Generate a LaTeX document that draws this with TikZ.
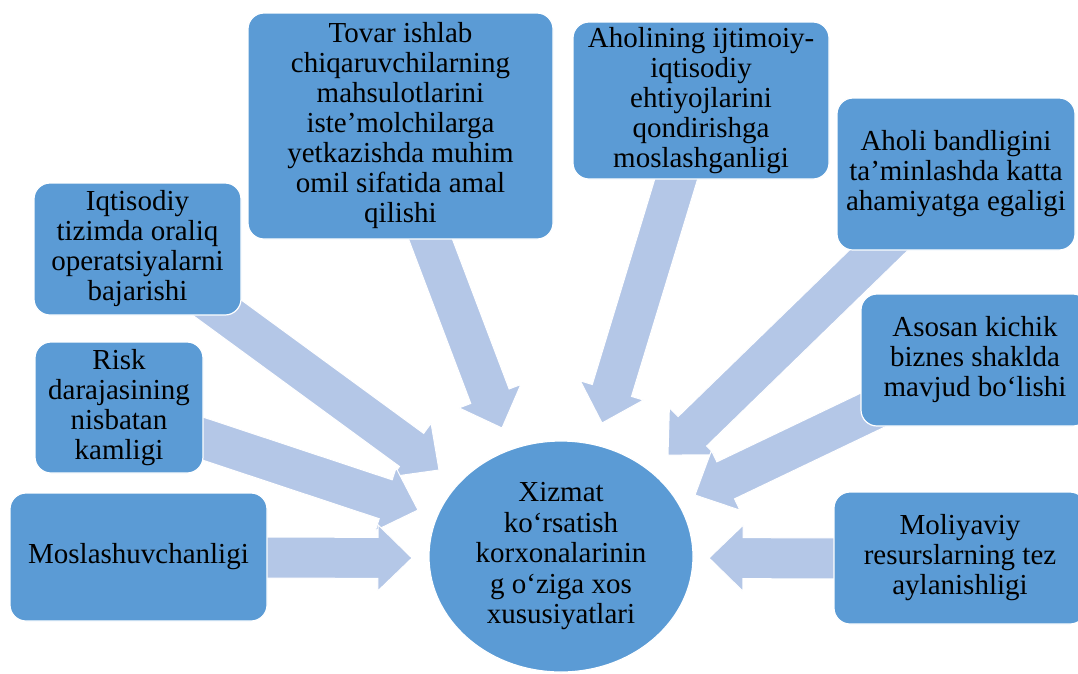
\documentclass[tikz,border=0pt]{standalone}
\usepackage{fontspec}
\setmainfont{Liberation Serif}
\usetikzlibrary{calc,shapes.geometric}

\definecolor{boxblue}{HTML}{5B9BD5}
\definecolor{arrowblue}{HTML}{B4C7E7}

\tikzset{
  card/.style={rectangle, rounded corners=16pt, fill=boxblue, draw=white,
    line width=1.2pt, align=center, inner sep=0pt,
    font=\fontsize{29}{30}\selectfont},
  hub/.style={ellipse, fill=boxblue, draw=white, line width=1.2pt,
    align=center, inner sep=0pt, font=\fontsize{29}{30.5}\selectfont},
  bigarrow/.style={fill=arrowblue, draw=white, line width=1pt, line join=miter},
}

% wide block arrow: #1 name prefix, #2 tail coordinate, #3 tip coordinate
\newcommand\blockarrow[3]{%
  \coordinate (#1-base) at ($(#3)!34pt!(#2)$);
  \draw[bigarrow]
    ($(#2)!20.5pt!90:(#3)$) -- ($(#1-base)!20.5pt!-90:(#2)$)
    -- ($(#1-base)!33pt!-90:(#2)$) -- (#3)
    -- ($(#1-base)!33pt!90:(#2)$) -- ($(#1-base)!20.5pt!90:(#2)$)
    -- ($(#2)!20.5pt!-90:(#3)$) -- cycle;
}

\begin{document}
\begin{tikzpicture}[x=1pt, y=-1pt]
\useasboundingbox (0,0) rectangle (1078,673);
\clip (0,0) rectangle (1078,673);

% arrow tails (hidden under the boxes) and tips (around the hub)
\coordinate (t1) at (197,293);    \coordinate (h1) at (439,470);
\coordinate (t2) at (195,436);    \coordinate (h2) at (418,510);
\coordinate (t3) at (265,557.5);  \coordinate (h3) at (412,558);
\coordinate (t4) at (424,222);    \coordinate (h4) at (502,428);
\coordinate (t5) at (680.6,164.6);\coordinate (h5) at (602,423);
\coordinate (t6) at (897.4,232);  \coordinate (h6) at (668,455);
\coordinate (t7) at (884.4,404.5);\coordinate (h7) at (695,495);
\coordinate (t8) at (840,558.5);  \coordinate (h8) at (709,558);

\blockarrow{a1}{t1}{h1}
\blockarrow{a2}{t2}{h2}
\blockarrow{a3}{t3}{h3}
\blockarrow{a4}{t4}{h4}
\blockarrow{a5}{t5}{h5}
\blockarrow{a8}{t8}{h8}
\blockarrow{a6}{t6}{h6}
\blockarrow{a7}{t7}{h7}

% feature boxes
\node[card, minimum width=207pt, minimum height=132pt] (iqt) at (137.5,249)
  {Iqtisodiy\\tizimda oraliq\\operatsiyalarni\\bajarishi};
\node[card, minimum width=168pt, minimum height=131pt] (risk) at (119,407.5)
  {Risk\\darajasining\\nisbatan\\kamligi};
\node[card, minimum width=257pt, minimum height=128pt] (mos) at (138.5,557)
  {Moslashuvchanligi};
\node[card, minimum width=305pt, minimum height=226pt] (tov) at (400.5,126)
  {Tovar ishlab\\chiqaruvchilarning\\mahsulotlarini\\iste’molchilarga\\yetkazishda muhim\\omil sifatida amal\\qilishi};
\node[card, minimum width=256pt, minimum height=157pt] (aho) at (701,100.5)
  {Aholining ijtimoiy-\\iqtisodiy\\ehtiyojlarini\\qondirishga\\moslashganligi};
\node[card, minimum width=238pt, minimum height=152pt] (band) at (956,174)
  {Aholi bandligini\\ta’minlashda katta\\ahamiyatga egaligi};
\node[card, minimum width=228pt, minimum height=132pt] (aso) at (975,360)
  {Asosan kichik\\biznes shaklda\\mavjud bo‘lishi};
\node[card, minimum width=252pt, minimum height=132pt] (mol) at (960,558)
  {Moliyaviy\\resurslarning tez\\aylanishligi};

% central hub
\node[hub, minimum width=264pt, minimum height=231pt] (hub) at (561,556.5)
  {Xizmat\\ko‘rsatish\\korxonalarinin\\g o‘ziga xos\\xususiyatlari};
\end{tikzpicture}
\end{document}
